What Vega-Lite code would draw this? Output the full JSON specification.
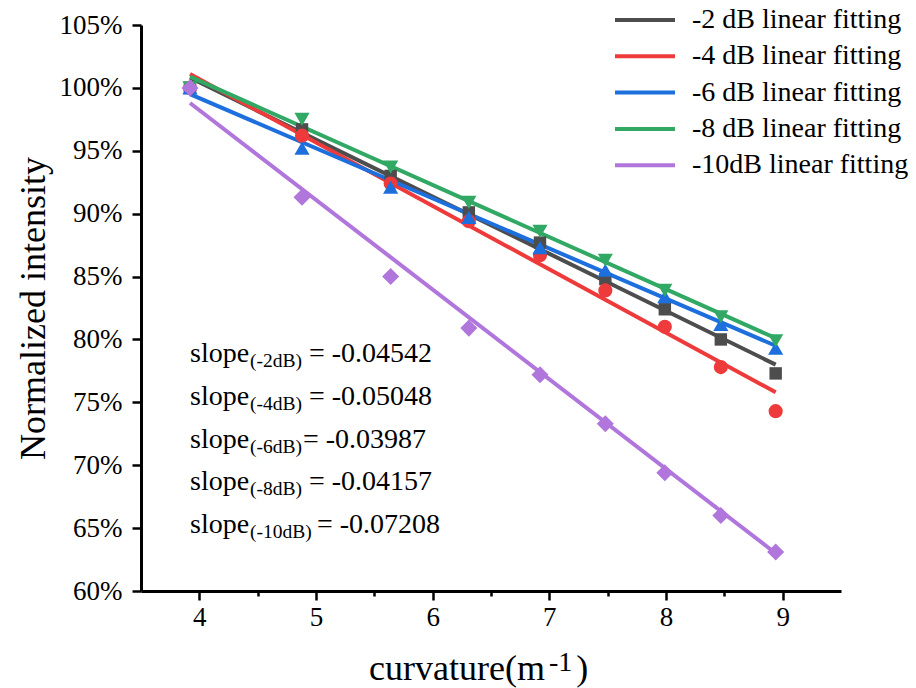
{
  "$schema": "https://vega.github.io/schema/vega-lite/v6.json",
  "width": 700,
  "height": 566,
  "autosize": {"type": "none"},
  "padding": {"left": 141, "top": 25, "right": 75, "bottom": 97},
  "background": "white",
  "config": {"view": {"stroke": null}, "font": "Liberation Serif", "axis": {"grid": false}},
  "datasets": {
    "pts": [
      {"x": 3.92, "v": 1.000, "g": "-2 dB"},
      {"x": 4.88, "v": 0.967, "g": "-2 dB"},
      {"x": 5.64, "v": 0.930, "g": "-2 dB"},
      {"x": 6.31, "v": 0.901, "g": "-2 dB"},
      {"x": 6.92, "v": 0.877, "g": "-2 dB"},
      {"x": 7.48, "v": 0.848, "g": "-2 dB"},
      {"x": 7.99, "v": 0.824, "g": "-2 dB"},
      {"x": 8.47, "v": 0.800, "g": "-2 dB"},
      {"x": 8.94, "v": 0.773, "g": "-2 dB"},
      {"x": 3.92, "v": 1.000, "g": "-4 dB"},
      {"x": 4.88, "v": 0.962, "g": "-4 dB"},
      {"x": 5.64, "v": 0.924, "g": "-4 dB"},
      {"x": 6.31, "v": 0.894, "g": "-4 dB"},
      {"x": 6.92, "v": 0.867, "g": "-4 dB"},
      {"x": 7.48, "v": 0.839, "g": "-4 dB"},
      {"x": 7.99, "v": 0.810, "g": "-4 dB"},
      {"x": 8.47, "v": 0.778, "g": "-4 dB"},
      {"x": 8.94, "v": 0.743, "g": "-4 dB"},
      {"x": 3.92, "v": 1.000, "g": "-6 dB"},
      {"x": 4.88, "v": 0.952, "g": "-6 dB"},
      {"x": 5.64, "v": 0.921, "g": "-6 dB"},
      {"x": 6.31, "v": 0.897, "g": "-6 dB"},
      {"x": 6.92, "v": 0.873, "g": "-6 dB"},
      {"x": 7.48, "v": 0.855, "g": "-6 dB"},
      {"x": 7.99, "v": 0.834, "g": "-6 dB"},
      {"x": 8.47, "v": 0.812, "g": "-6 dB"},
      {"x": 8.94, "v": 0.793, "g": "-6 dB"},
      {"x": 3.92, "v": 1.000, "g": "-8 dB"},
      {"x": 4.88, "v": 0.975, "g": "-8 dB"},
      {"x": 5.64, "v": 0.937, "g": "-8 dB"},
      {"x": 6.31, "v": 0.909, "g": "-8 dB"},
      {"x": 6.92, "v": 0.886, "g": "-8 dB"},
      {"x": 7.48, "v": 0.863, "g": "-8 dB"},
      {"x": 7.99, "v": 0.839, "g": "-8 dB"},
      {"x": 8.47, "v": 0.818, "g": "-8 dB"},
      {"x": 8.94, "v": 0.799, "g": "-8 dB"},
      {"x": 3.92, "v": 1.000, "g": "-10 dB"},
      {"x": 4.88, "v": 0.913, "g": "-10 dB"},
      {"x": 5.64, "v": 0.850, "g": "-10 dB"},
      {"x": 6.31, "v": 0.809, "g": "-10 dB"},
      {"x": 6.92, "v": 0.772, "g": "-10 dB"},
      {"x": 7.48, "v": 0.733, "g": "-10 dB"},
      {"x": 7.99, "v": 0.694, "g": "-10 dB"},
      {"x": 8.47, "v": 0.660, "g": "-10 dB"},
      {"x": 8.94, "v": 0.631, "g": "-10 dB"}
    ],
    "fit": [
      {"x": 3.92, "v": 1.008, "s": "-2 dB linear fitting"},
      {"x": 8.94, "v": 0.780, "s": "-2 dB linear fitting"},
      {"x": 3.92, "v": 1.011, "s": "-4 dB linear fitting"},
      {"x": 8.94, "v": 0.758, "s": "-4 dB linear fitting"},
      {"x": 3.92, "v": 0.995, "s": "-6 dB linear fitting"},
      {"x": 8.94, "v": 0.795, "s": "-6 dB linear fitting"},
      {"x": 3.92, "v": 1.009, "s": "-8 dB linear fitting"},
      {"x": 8.94, "v": 0.801, "s": "-8 dB linear fitting"},
      {"x": 3.92, "v": 0.988, "s": "-10dB linear fitting"},
      {"x": 8.94, "v": 0.630, "s": "-10dB linear fitting"}
    ],
    "ann": [
      {"k": 1, "sub": "(-2dB)", "eq": "= -0.04542", "v": 0.7821},
      {"k": 2, "sub": "(-4dB)", "eq": "= -0.05048", "v": 0.7479},
      {"k": 3, "sub": "(-6dB)", "eq": "= -0.03987", "v": 0.7137},
      {"k": 4, "sub": "(-8dB)", "eq": "= -0.04157", "v": 0.6803},
      {"k": 5, "sub": "(-10dB)", "eq": "= -0.07208", "v": 0.6461}
    ]
  },
  "layer": [
    {
      "data": {"name": "fit"},
      "mark": {"type": "line", "strokeWidth": 4},
      "encoding": {
        "x": {
          "field": "x", "type": "quantitative",
          "scale": {"domain": [3.5, 9.5], "nice": false, "zero": false},
          "axis": {
            "values": [4, 4.5, 5, 5.5, 6, 6.5, 7, 7.5, 8, 8.5, 9],
            "labelExpr": "datum.value % 1 == 0 ? format(datum.value, 'd') : ''",
            "tickSize": {"condition": {"test": "datum.value % 1 == 0", "value": 9}, "value": 5},
            "tickWidth": 2.5, "tickColor": "black",
            "domainWidth": 3, "domainColor": "black",
            "labelFont": "Liberation Serif", "labelFontSize": 27, "labelColor": "black",
            "labelPadding": 4, "labelFlush": false,
            "title": null
          }
        },
        "y": {
          "field": "v", "type": "quantitative",
          "scale": {"domain": [0.6, 1.05], "nice": false, "zero": false},
          "axis": {
            "values": [0.6, 0.625, 0.65, 0.675, 0.7, 0.725, 0.75, 0.775, 0.8, 0.825, 0.85, 0.875, 0.9, 0.925, 0.95, 0.975, 1.0, 1.025, 1.05],
            "format": ".0%",
            "labelExpr": "round(datum.value * 1000) % 50 == 0 ? datum.label : ''",
            "tickSize": {"condition": {"test": "round(datum.value * 1000) % 50 == 0", "value": 9}, "value": 5},
            "tickWidth": 2.5, "tickColor": "black",
            "domainWidth": 3, "domainColor": "black",
            "labelFont": "Liberation Serif", "labelFontSize": 27, "labelColor": "black",
            "labelPadding": 10, "labelFlush": false,
            "title": "Normalized intensity",
            "titleFont": "Liberation Serif", "titleFontSize": 36, "titleFontWeight": "normal",
            "titleColor": "black", "titlePadding": 7
          }
        },
        "color": {
          "field": "s", "type": "nominal",
          "scale": {
            "domain": ["-2 dB linear fitting", "-4 dB linear fitting", "-6 dB linear fitting", "-8 dB linear fitting", "-10dB linear fitting"],
            "range": ["#4d4d4d", "#ee3a3a", "#1c6fdc", "#31a863", "#b076dc"]
          },
          "legend": {
            "title": null, "orient": "none", "legendX": 490, "legendY": -19,
            "symbolType": "M-2.5,0H2.5", "symbolSize": 576, "symbolStrokeWidth": 4,
            "labelFont": "Liberation Serif", "labelFontSize": 28, "labelColor": "black",
            "labelOffset": 33, "rowPadding": 8.3, "padding": 0, "labelLimit": 400
          }
        }
      }
    },
    {
      "data": {"name": "pts"},
      "transform": [{"filter": "datum.g == '-2 dB'"}],
      "mark": {"type": "point", "filled": true, "opacity": 1, "shape": "square", "size": 155, "color": "#4d4d4d"},
      "encoding": {
        "x": {"field": "x", "type": "quantitative"},
        "y": {"field": "v", "type": "quantitative"}
      }
    },
    {
      "data": {"name": "pts"},
      "transform": [{"filter": "datum.g == '-4 dB'"}],
      "mark": {"type": "point", "filled": true, "opacity": 1, "shape": "circle", "size": 200, "color": "#ee3a3a"},
      "encoding": {
        "x": {"field": "x", "type": "quantitative"},
        "y": {"field": "v", "type": "quantitative"}
      }
    },
    {
      "data": {"name": "pts"},
      "transform": [{"filter": "datum.g == '-6 dB'"}],
      "mark": {"type": "point", "filled": true, "opacity": 1, "shape": "triangle-up", "size": 230, "color": "#1c6fdc"},
      "encoding": {
        "x": {"field": "x", "type": "quantitative"},
        "y": {"field": "v", "type": "quantitative"}
      }
    },
    {
      "data": {"name": "pts"},
      "transform": [{"filter": "datum.g == '-8 dB'"}],
      "mark": {"type": "point", "filled": true, "opacity": 1, "shape": "triangle-down", "size": 230, "color": "#31a863"},
      "encoding": {
        "x": {"field": "x", "type": "quantitative"},
        "y": {"field": "v", "type": "quantitative"}
      }
    },
    {
      "data": {"name": "pts"},
      "transform": [{"filter": "datum.g == '-10 dB'"}],
      "mark": {"type": "point", "filled": true, "opacity": 1, "shape": "diamond", "size": 290, "color": "#b076dc"},
      "encoding": {
        "x": {"field": "x", "type": "quantitative"},
        "y": {"field": "v", "type": "quantitative"}
      }
    },
    {
      "data": {"name": "ann"},
      "mark": {"type": "text", "align": "left", "baseline": "alphabetic", "fontSize": 28, "font": "Liberation Serif", "color": "black"},
      "encoding": {
        "x": {"datum": 3.92, "type": "quantitative"},
        "y": {"field": "v", "type": "quantitative"},
        "text": {"value": "slope"}
      }
    },
    {
      "data": {"name": "ann"},
      "mark": {"type": "text", "align": "left", "baseline": "alphabetic", "fontSize": 19.5, "font": "Liberation Serif", "color": "black", "dx": 60, "dy": 5},
      "encoding": {
        "x": {"datum": 3.92, "type": "quantitative"},
        "y": {"field": "v", "type": "quantitative"},
        "text": {"field": "sub"}
      }
    },
    {
      "data": {"name": "ann"},
      "transform": [{"filter": "datum.k == 1 || datum.k == 2 || datum.k == 4"}],
      "mark": {"type": "text", "align": "left", "baseline": "alphabetic", "fontSize": 28, "font": "Liberation Serif", "color": "black", "dx": 119},
      "encoding": {
        "x": {"datum": 3.92, "type": "quantitative"},
        "y": {"field": "v", "type": "quantitative"},
        "text": {"field": "eq"}
      }
    },
    {
      "data": {"name": "ann"},
      "transform": [{"filter": "datum.k == 3"}],
      "mark": {"type": "text", "align": "left", "baseline": "alphabetic", "fontSize": 28, "font": "Liberation Serif", "color": "black", "dx": 113},
      "encoding": {
        "x": {"datum": 3.92, "type": "quantitative"},
        "y": {"field": "v", "type": "quantitative"},
        "text": {"field": "eq"}
      }
    },
    {
      "data": {"name": "ann"},
      "transform": [{"filter": "datum.k == 5"}],
      "mark": {"type": "text", "align": "left", "baseline": "alphabetic", "fontSize": 28, "font": "Liberation Serif", "color": "black", "dx": 127},
      "encoding": {
        "x": {"datum": 3.92, "type": "quantitative"},
        "y": {"field": "v", "type": "quantitative"},
        "text": {"field": "eq"}
      }
    },
    {
      "data": {"values": [{"t": "curvature(m"}]},
      "mark": {"type": "text", "align": "right", "baseline": "alphabetic", "fontSize": 36, "font": "Liberation Serif", "color": "black", "dy": 89, "clip": false},
      "encoding": {
        "x": {"datum": 6.962, "type": "quantitative"},
        "y": {"datum": 0.6, "type": "quantitative"},
        "text": {"field": "t"}
      }
    },
    {
      "data": {"values": [{"t": "-1"}]},
      "mark": {"type": "text", "align": "left", "baseline": "alphabetic", "fontSize": 28, "font": "Liberation Serif", "color": "black", "dx": 4, "dy": 80, "clip": false},
      "encoding": {
        "x": {"datum": 6.962, "type": "quantitative"},
        "y": {"datum": 0.6, "type": "quantitative"},
        "text": {"field": "t"}
      }
    },
    {
      "data": {"values": [{"t": ")"}]},
      "mark": {"type": "text", "align": "left", "baseline": "alphabetic", "fontSize": 36, "font": "Liberation Serif", "color": "black", "dy": 89, "clip": false},
      "encoding": {
        "x": {"datum": 7.23, "type": "quantitative"},
        "y": {"datum": 0.6, "type": "quantitative"},
        "text": {"field": "t"}
      }
    }
  ]
}
